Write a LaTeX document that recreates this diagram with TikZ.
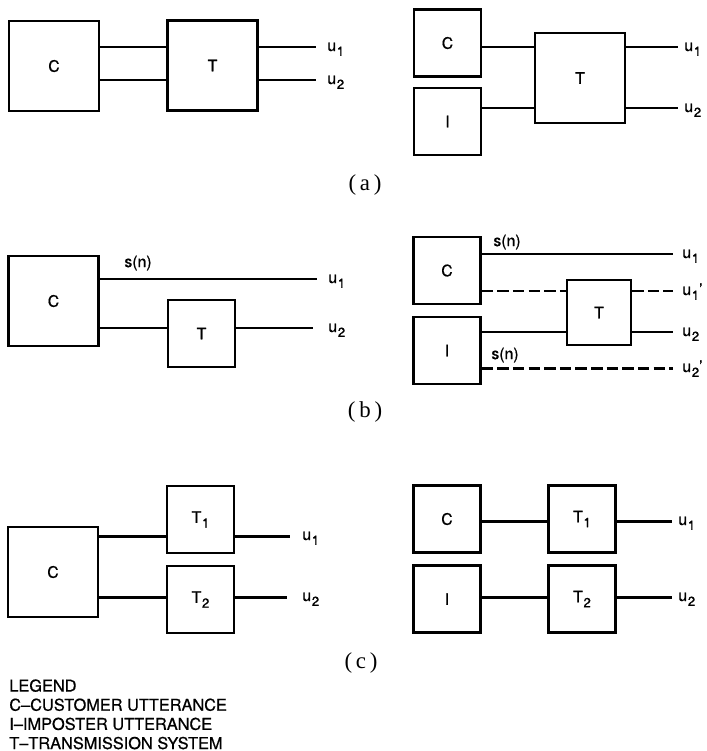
\documentclass[tikz,border=0pt]{standalone}
\usepackage{fontspec}
\setsansfont{TeX Gyre Heros}[FakeBold=0.7]
\newfontfamily\capfont{Liberation Serif}
\newcommand{\usb}[1]{\kern0.4pt\raisebox{-2.8pt}{\fontsize{7.5}{7.5}\selectfont#1}}

\begin{document}
\begin{tikzpicture}[x=0.02cm, y=-0.02cm,
	lab/.style={inner sep=0pt, font=\sffamily\fontsize{9}{10}\selectfont},
	blk/.style={lab, draw, line width=1.3pt},
	bigblk/.style={blk, minimum width=1.8cm, minimum height=1.8cm},
	smallblk/.style={blk, minimum width=1.34cm, minimum height=1.34cm},
	outlab/.style={lab, anchor=base west},
	wire/.style={line width=1.7pt},
	dashwire/.style={wire, dash pattern=on 6.5pt off 2.4pt},
	caplab/.style={font=\capfont\fontsize{13}{15}\selectfont}]
	\useasboundingbox (0,0) rectangle (707,751);

	% (a) left
	\node[bigblk] (Ca) at (54,66) {C};
	\node[bigblk] (Ta) at (212.5,65.5) {T};
	\coordinate (ao1) at (316,47);
	\coordinate (ao2) at (316,80);
	\node[outlab] (au1) at (327,51) {u\usb{1}};
	\node[outlab] (au2) at (327,84) {u\usb{2}};
	\draw[wire] (Ca.east |- ao1) -- (Ta.west |- ao1);
	\draw[wire] (Ca.east |- ao2) -- (Ta.west |- ao2);
	\draw[wire] (Ta.east |- ao1) -- (ao1);
	\draw[wire] (Ta.east |- ao2) -- (ao2);

	% (a) right
	\node[smallblk] (Ca2) at (447.5,43) {C};
	\node[smallblk] (Ia) at (447.5,121.5) {I};
	\node[bigblk] (Ta2) at (580,78) {T};
	\coordinate (ao3) at (678,47);
	\coordinate (ao4) at (678,108);
	\node[outlab] (au3) at (684,51) {u\usb{1}};
	\node[outlab] (au4) at (684,112) {u\usb{2}};
	\draw[wire] (Ca2.east |- ao3) -- (Ta2.west |- ao3);
	\draw[wire] (Ia.east |- ao4) -- (Ta2.west |- ao4);
	\draw[wire] (Ta2.east |- ao3) -- (ao3);
	\draw[wire] (Ta2.east |- ao4) -- (ao4);

	\node[caplab] (capa) at (365,185) {(\,a\,)};

	% (b) left
	\node[bigblk] (Cb) at (53.5,301) {C};
	\node[smallblk] (Tb) at (201.5,333.5) {T};
	\node[lab] (bs1) at (138,263) {s(n)};
	\coordinate (bo1) at (317,279);
	\coordinate (bo2) at (313,328);
	\node[outlab] (bu1) at (328,283) {u\usb{1}};
	\node[outlab] (bu2) at (328,332) {u\usb{2}};
	\draw[wire] (Cb.east |- bo1) -- (bo1);
	\draw[wire] (Cb.east |- bo2) -- (Tb.west |- bo2);
	\draw[wire] (Tb.east |- bo2) -- (bo2);

	% (b) right
	\node[smallblk] (Cb2) at (447,270.5) {C};
	\node[smallblk] (Ib) at (447,350.5) {I};
	\node[smallblk, minimum width=1.28cm, minimum height=1.3cm] (Tb2) at (599,312.5) {T};
	\node[lab] (bs2) at (507,242) {s(n)};
	\node[lab] (bs3) at (505,355) {s(n)};
	\coordinate (bo3) at (673,254);
	\coordinate (bo4) at (673,291);
	\coordinate (bo5) at (673,332);
	\coordinate (bo6) at (673,368);
	\node[outlab] (bu3) at (682,258) {u\usb{1}};
	\node[outlab] (bu4) at (682,295) {u\usb{1}'};
	\node[outlab] (bu5) at (682,336) {u\usb{2}};
	\node[outlab] (bu6) at (682,372) {u\usb{2}'};
	\draw[wire] (Cb2.east |- bo3) -- (bo3);
	\draw[dashwire] (Cb2.east |- bo4) -- (Tb2.west |- bo4);
	\draw[dashwire] (Tb2.east |- bo4) -- (bo4);
	\draw[wire] (Ib.east |- bo5) -- (Tb2.west |- bo5);
	\draw[wire] (Tb2.east |- bo5) -- (bo5);
	\draw[dashwire] (Ib.east |- bo6) -- (bo6);

	\node[caplab] (capb) at (365,412) {(\,b\,)};

	% (c) left
	\node[bigblk] (Cc) at (53,572) {C};
	\node[smallblk] (T1c) at (200.5,519.5) {T\usb{1}};
	\node[smallblk] (T2c) at (200.5,599.5) {T\usb{2}};
	\coordinate (co1) at (290,536);
	\coordinate (co2) at (287,597);
	\node[outlab] (cu1) at (302,540) {u\usb{1}};
	\node[outlab] (cu2) at (302,601) {u\usb{2}};
	\draw[wire] (Cc.east |- co1) -- (T1c.west |- co1);
	\draw[wire] (Cc.east |- co2) -- (T2c.west |- co2);
	\draw[wire] (T1c.east |- co1) -- (co1);
	\draw[wire] (T2c.east |- co2) -- (co2);

	% (c) right
	\node[smallblk] (Cc2) at (447,519) {C};
	\node[smallblk] (Ic) at (447,599) {I};
	\node[smallblk] (T1d) at (582,519) {T\usb{1}};
	\node[smallblk] (T2d) at (582,599) {T\usb{2}};
	\coordinate (co3) at (672,521);
	\coordinate (co4) at (672,597);
	\node[outlab] (cu3) at (678,525) {u\usb{1}};
	\node[outlab] (cu4) at (678,601) {u\usb{2}};
	\draw[wire] (Cc2.east |- co3) -- (T1d.west |- co3);
	\draw[wire] (Ic.east |- co4) -- (T2d.west |- co4);
	\draw[wire] (T1d.east |- co3) -- (co3);
	\draw[wire] (T2d.east |- co4) -- (co4);

	\node[caplab] (capc) at (361,663) {(\,c\,)};

	% legend
	\node[anchor=north west, align=left, inner sep=0pt, font=\sffamily\fontsize{9.3}{10.9}\selectfont] (legend) at (9,679)
		{LEGEND\\C–CUSTOMER UTTERANCE\\I–IMPOSTER UTTERANCE\\T–TRANSMISSION SYSTEM};
\end{tikzpicture}
\end{document}
